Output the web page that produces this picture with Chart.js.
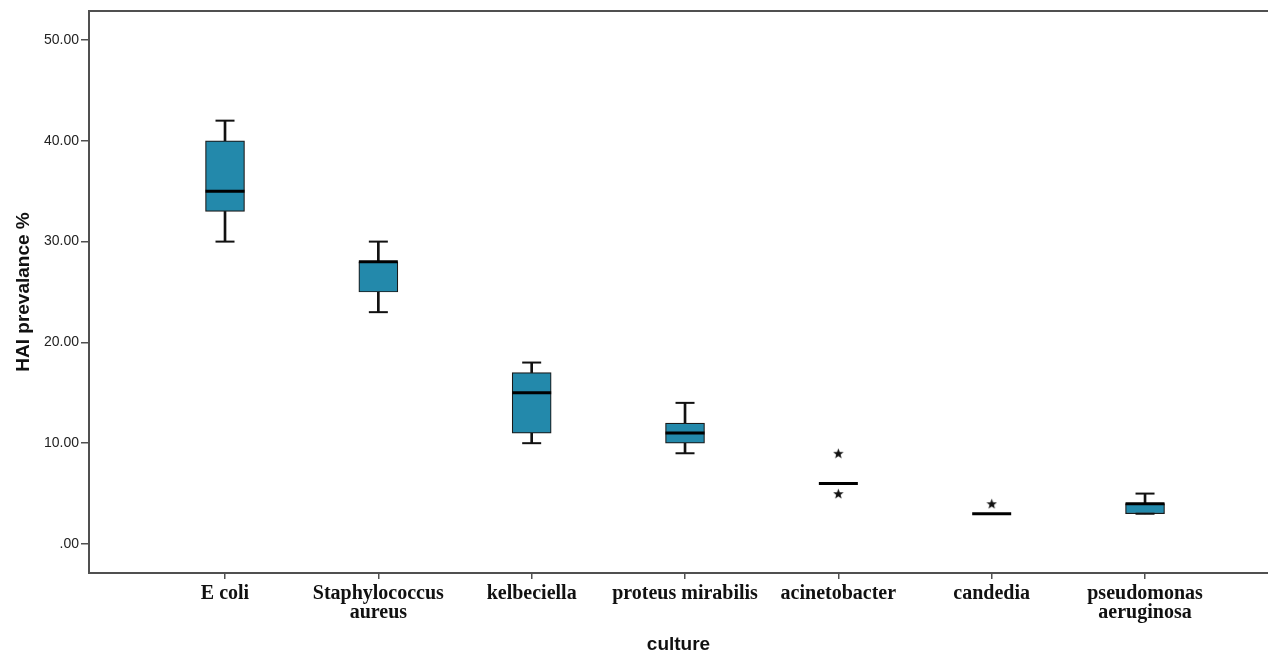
<!DOCTYPE html>
<html>
<head>
<meta charset="utf-8">
<title>HAI prevalance by culture</title>
<script src="https://cdn.jsdelivr.net/npm/chart.js@4.4.1/dist/chart.umd.min.js"></script>
<style>
    html, body { margin: 0; padding: 0; background: #fff; }
    #wrap { width: 1268px; height: 653px; position: relative; }
</style>
</head>
<body>
<div id="wrap"><canvas id="boxChart"></canvas></div>
<script>
// Boxplot of HAI prevalance % per culture (SPSS style)

const cultures = [
    'E coli',
    ['Staphylococcus', 'aureus'],
    'kelbeciella',
    'proteus mirabilis',
    'acinetobacter',
    'candedia',
    ['pseudomonas', 'aeruginosa']
];
const whiskerLow  = [30, 23, 10,  9, 6, 3, 3];
const q1          = [33, 25, 11, 10, 6, 3, 3];
const median      = [35, 28, 15, 11, 6, 3, 4];
const q3          = [40, 28, 17, 12, 6, 3, 4];
const whiskerHigh = [42, 30, 18, 14, 6, 3, 5];

// extreme values (stars): index of culture + value
const outlierCulture = [4, 4, 5];
const outlierValue   = [9, 5, 4];

const yTicks = [0, 10, 20, 30, 40, 50];

const boxColor = 'rgb(35, 137, 171)';
const axisColor = '#505050';

// build the datasets
const boxData = [], upperStem = [], lowerStem = [], caps = [], medians = [];
cultures.forEach((c, i) => {
    const hasBox = q3[i] > q1[i];
    medians.push({ x: i, y: median[i] });
    if (hasBox) {
        boxData.push({ x: i, y: [q1[i], q3[i]] });
    }
    if (whiskerHigh[i] > q3[i] || whiskerLow[i] < q1[i]) {
        upperStem.push({ x: i, y: [q3[i], whiskerHigh[i]] });
        lowerStem.push({ x: i, y: [whiskerLow[i], q1[i]] });
        caps.push({ x: i, y: whiskerHigh[i] });
        caps.push({ x: i, y: whiskerLow[i] });
    }
});
const outliers = outlierCulture.map((c, k) => ({ x: c, y: outlierValue[k] }));

// filled five point star used for extreme values
function makeStar(size) {
    const cv = document.createElement('canvas');
    cv.width = size; cv.height = size;
    const g = cv.getContext('2d');
    const cx = size / 2, cy = size / 2, R = size / 2, r = R * 0.42;
    g.beginPath();
    for (let k = 0; k < 10; k++) {
        const rad = k % 2 === 0 ? R : r;
        const a = -Math.PI / 2 + k * Math.PI / 5;
        g.lineTo(cx + rad * Math.cos(a), cy + rad * Math.sin(a) + 0.5);
    }
    g.closePath();
    g.fillStyle = '#111';
    g.fill();
    return cv;
}

// top frame line (the right side of the frame is cut off in the original)
const topFrame = {
    id: 'topFrame',
    afterDraw(chart) {
        const { ctx, chartArea } = chart;
        ctx.save();
        ctx.strokeStyle = axisColor;
        ctx.lineWidth = 2;
        ctx.beginPath();
        ctx.moveTo(chartArea.left - 1, chartArea.top);
        ctx.lineTo(chartArea.right, chartArea.top);
        ctx.stroke();
        ctx.restore();
    }
};

const ctx = document.getElementById('boxChart').getContext('2d');
new Chart(ctx, {
    type: 'bar',
    data: {
        datasets: [
            {
                type: 'scatter',
                label: 'median',
                data: medians,
                pointStyle: 'line',
                radius: 19.5,
                borderColor: '#000',
                borderWidth: 3,
                order: 1
            },
            {
                type: 'scatter',
                label: 'extremes',
                data: outliers,
                pointStyle: makeStar(11),
                order: 2
            },
            {
                type: 'scatter',
                label: 'caps',
                data: caps,
                pointStyle: 'line',
                radius: 9.5,
                borderColor: '#111',
                borderWidth: 2,
                order: 3
            },
            {
                label: 'box',
                data: boxData,
                backgroundColor: boxColor,
                borderColor: '#1a1a1a',
                borderWidth: 1.2,
                borderSkipped: false,
                barThickness: 39,
                grouped: false,
                order: 4
            },
            {
                label: 'upper whisker',
                data: upperStem,
                backgroundColor: '#111',
                barThickness: 2,
                grouped: false,
                order: 5
            },
            {
                label: 'lower whisker',
                data: lowerStem,
                backgroundColor: '#111',
                barThickness: 2,
                grouped: false,
                order: 5
            }
        ]
    },
    options: {
        responsive: true,
        maintainAspectRatio: false,
        animation: false,
        layout: { autoPadding: false, padding: { top: 11, right: 0, left: 0, bottom: 0 } },
        plugins: {
            legend: { display: false },
            tooltip: { enabled: false }
        },
        scales: {
            x: {
                type: 'linear',
                offset: false,
                min: -0.887,
                max: 6.802,
                afterBuildTicks: scale => {
                    scale.ticks = cultures.map((c, i) => ({ value: i }));
                },
                afterFit: scale => { scale.height = 80; },
                ticks: {
                    autoSkip: false,
                    maxRotation: 0,
                    padding: 5,
                    color: '#111',
                    font: { family: '"Liberation Serif", serif', size: 20, weight: 'bold', lineHeight: 0.95 },
                    callback: value => cultures[value]
                },
                grid: {
                    offset: false,
                    drawOnChartArea: false,
                    drawTicks: true,
                    tickLength: 6,
                    color: axisColor,
                    lineWidth: 1.5
                },
                border: { display: true, color: axisColor, width: 2 },
                title: {
                    display: true,
                    text: 'culture',
                    color: '#111',
                    padding: { top: 0, bottom: 0 },
                    font: { family: '"Liberation Sans", Arial, sans-serif', size: 19, weight: 'bold', lineHeight: 0.85 }
                }
            },
            y: {
                min: -2.88,
                max: 52.88,
                afterBuildTicks: scale => {
                    scale.ticks = yTicks.map(v => ({ value: v }));
                },
                afterFit: scale => { scale.width = 89; },
                ticks: {
                    padding: 2,
                    color: '#222',
                    font: { family: '"Liberation Sans", Arial, sans-serif', size: 14 },
                    callback: value => value === 0 ? '.00' : value.toFixed(2)
                },
                grid: {
                    drawOnChartArea: false,
                    drawTicks: true,
                    tickLength: 8,
                    color: axisColor,
                    lineWidth: 1.5
                },
                border: { display: true, color: axisColor, width: 2 },
                title: {
                    display: true,
                    text: 'HAI prevalance %',
                    color: '#111',
                    padding: { top: 12, bottom: 0 },
                    font: { family: '"Liberation Sans", Arial, sans-serif', size: 19, weight: 'bold' }
                }
            }
        }
    },
    plugins: [topFrame]
});
</script>
</body>
</html>
